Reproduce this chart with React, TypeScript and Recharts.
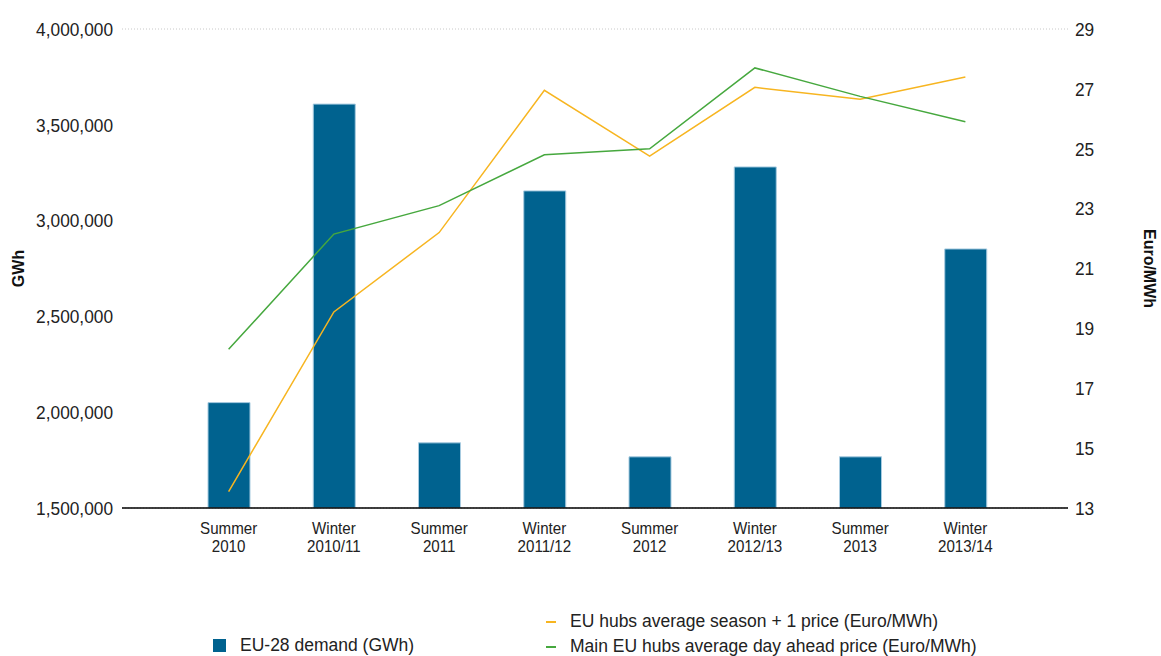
import React from 'react';
import { ComposedChart, Bar, Line, XAxis, YAxis, CartesianGrid } from 'recharts';

const categories = ['Summer\n2010', 'Winter\n2010/11', 'Summer\n2011', 'Winter\n2011/12', 'Summer\n2012', 'Winter\n2012/13', 'Summer\n2013', 'Winter\n2013/14'];
const demand = [2050000, 3608000, 1840000, 3155000, 1767000, 3280000, 1767000, 2852000];
const seasonPrice = [13.55, 19.55, 22.2, 26.95, 24.75, 27.05, 26.65, 27.4];
const dayAheadPrice = [18.3, 22.15, 23.1, 24.8, 25.0, 27.7, 26.75, 25.9];
const leftTicks = [1500000, 2000000, 2500000, 3000000, 3500000, 4000000];
const rightTicks = [13, 15, 17, 19, 21, 23, 25, 27, 29];

const data = categories.map((c, i) => ({
  cat: c,
  demand: demand[i],
  season: seasonPrice[i],
  dayAhead: dayAheadPrice[i],
}));

const FONT = "'Liberation Sans', Arial, sans-serif";
const BAR = '#00628f';
const ORANGE = '#f7b520';
const GREEN = '#46a83e';

const CatTick = (props: any) => {
  const { x, y, payload } = props;
  const lines = String(payload.value).split('\n');
  return (
    <g transform={`translate(${x},${y}) scale(0.89,1)`}>
      <text x={0} y={0} textAnchor="middle" fontFamily={FONT} fontSize={17} fill="#222">
        {lines.map((l, i) => (
          <tspan key={i} x={0} dy={18}>{l}</tspan>
        ))}
      </text>
    </g>
  );
};

const LeftTick = (props: any) => {
  const { x, y, payload } = props;
  return (
    <g transform={`translate(${x},${y}) scale(0.91,1)`}>
      <text x={0} y={0} dy="0.36em" textAnchor="end" fontFamily={FONT} fontSize={19} fill="#222">
        {Number(payload.value).toLocaleString('en-US')}
      </text>
    </g>
  );
};

const RightTick = (props: any) => {
  const { x, y, payload } = props;
  return (
    <g transform={`translate(${x},${y}) scale(0.91,1)`}>
      <text x={0} y={0} dy="0.36em" textAnchor="start" fontFamily={FONT} fontSize={19} fill="#222">
        {payload.value}
      </text>
    </g>
  );
};

export default function App() {
  return (
    <div style={{ position: 'absolute', left: 0, top: 0, width: 1161, height: 656, background: '#fff', fontFamily: FONT, overflow: 'hidden' }}>
      <ComposedChart width={1161} height={656} data={data} margin={{ top: 29, right: 0, bottom: 0, left: 0 }}>
        <CartesianGrid vertical={false} stroke="#c8c8c8" strokeDasharray="1 2" />
        <XAxis
          dataKey="cat"
          xAxisId="x"
          interval={0}
          height={148}
          padding={{ left: 54, right: 50 }}
          tickLine={false}
          axisLine={{ stroke: '#000', strokeWidth: 1.5 }}
          tick={<CatTick />}
        />
        <YAxis
          yAxisId="left"
          orientation="left"
          width={122}
          domain={[1500000, 4000000]}
          ticks={leftTicks}
          allowDataOverflow
          axisLine={false}
          tickLine={false}
          tickMargin={3}
          tick={<LeftTick />}
          label={{ value: 'GWh', angle: -90, position: 'insideLeft', offset: 18, style: { fontFamily: FONT, fontSize: 16, fontWeight: 'bold', fill: '#111', textAnchor: 'middle' } }}
        />
        <YAxis
          yAxisId="right"
          orientation="right"
          width={93}
          domain={[13, 29]}
          ticks={rightTicks}
          allowDataOverflow
          axisLine={false}
          tickLine={false}
          tickMargin={1}
          tick={<RightTick />}
          label={{ value: 'Euro/MWh', angle: 90, position: 'insideRight', offset: 11, style: { fontFamily: FONT, fontSize: 16, fontWeight: 'bold', fill: '#111', textAnchor: 'middle' } }}
        />
        <Bar xAxisId="x" yAxisId="left" dataKey="demand" fill={BAR} stroke="#a7cbe0" strokeWidth={1} barSize={42} isAnimationActive={false} />
        <Line xAxisId="x" yAxisId="right" dataKey="season" stroke={ORANGE} strokeWidth={1.5} dot={false} activeDot={false} isAnimationActive={false} />
        <Line xAxisId="x" yAxisId="right" dataKey="dayAhead" stroke={GREEN} strokeWidth={1.5} dot={false} activeDot={false} isAnimationActive={false} />
      </ComposedChart>
      <div style={{ position: 'absolute', left: 213, top: 636, display: 'flex', alignItems: 'center', fontSize: 17.5, color: '#222', lineHeight: '18px' }}>
        <span style={{ display: 'inline-block', width: 13, height: 13, background: BAR, marginRight: 14 }} />
        <span>EU-28 demand (GWh)</span>
      </div>
      <div style={{ position: 'absolute', left: 546, top: 609, fontSize: 17.5, color: '#222', lineHeight: '25px' }}>
        <div style={{ display: 'flex', alignItems: 'center' }}>
          <span style={{ display: 'inline-block', width: 10, height: 2, background: ORANGE, marginRight: 14 }} />
          <span>EU hubs average season + 1 price (Euro/MWh)</span>
        </div>
        <div style={{ display: 'flex', alignItems: 'center' }}>
          <span style={{ display: 'inline-block', width: 10, height: 2, background: GREEN, marginRight: 14 }} />
          <span>Main EU hubs average day ahead price (Euro/MWh)</span>
        </div>
      </div>
    </div>
  );
}
